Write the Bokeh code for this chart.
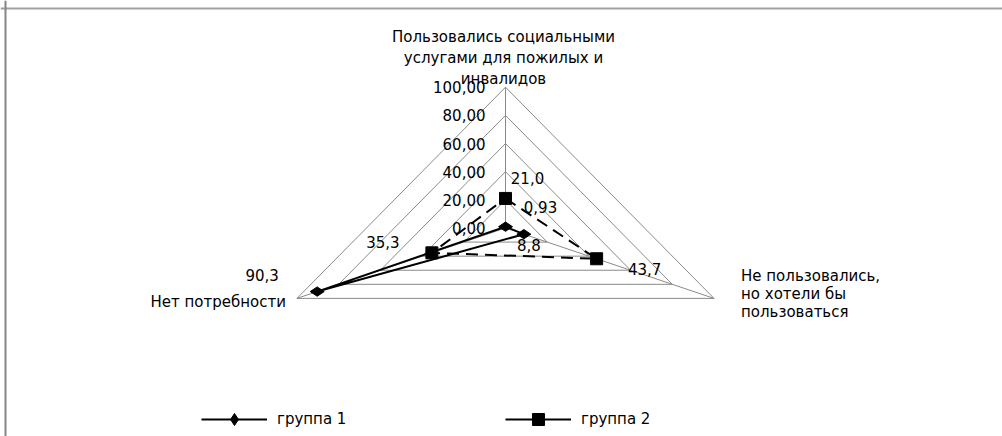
import numpy as np
from bokeh.plotting import figure
from bokeh.models import Range1d, Legend, LegendItem, Span
from bokeh.embed import file_html
from bokeh.resources import INLINE
from bokeh.core.properties import value

# ---------------- data ----------------
categories = ["Пользовались социальными\nуслугами для пожилых и\nинвалидов",
              "Не пользовались,\nно хотели бы\nпользоваться",
              "Нет потребности"]
series_names = ["группа 1", "группа 2"]
group1 = [0.93, 8.8, 90.3]
group2 = [21.0, 43.7, 35.3]
group1_labels = ["0,93", "8,8", "90,3"]
group2_labels = ["21,0", "43,7", "35,3"]
ticks = [0, 20, 40, 60, 80, 100]
tick_labels = ["0,00", "20,00", "40,00", "60,00", "80,00", "100,00"]

# ---------------- layout / style ----------------
W, H = 1002, 436
CX, CY = 505.0, 227.5      # chart centre in figure pixels
SX, SY = 2.408, 1.408      # pixels per unit (x, y)
angles = np.deg2rad([90, -30, 210])
FONT = value("DejaVu Sans")
FS = "15px"
GRID = "#8a8a8a"

g1_dx = [35, 5, -55]
g1_dy = [-20, 11, -17]
g2_dx = [22, 48, -49]
g2_dy = [-20, 10, -11]


def to_xy(vals):
    v = np.asarray(vals, dtype=float)
    return v * np.cos(angles), v * np.sin(angles)


def closed(a):
    return np.append(a, a[0])


p = figure(width=W, height=H,
           x_range=Range1d(-CX / SX, (W - CX) / SX),
           y_range=Range1d(-(H - CY) / SY, CY / SY),
           output_backend="svg", toolbar_location=None, min_border=0,
           x_axis_location=None, y_axis_location=None,
           outline_line_color=None)
p.grid.visible = False

# chart-area border (top and left visible in the reference)
p.add_layout(Span(location=(CY - 8) / SY, dimension="width", line_color="#a0a0a0", line_width=2))
p.add_layout(Span(location=(5 - CX) / SX, dimension="height", line_color="#858585", line_width=2))

# radar grid
levels = ticks[1:]
gxs, gys = [], []
for r in levels:
    x, y = to_xy([r] * 3)
    gxs.append(list(closed(x)))
    gys.append(list(closed(y)))
p.multi_line(gxs, gys, line_color=GRID, line_width=1)

ox, oy = to_xy([ticks[-1]] * 3)
p.multi_line([[0, float(x)] for x in ox], [[0, float(y)] for y in oy], line_color=GRID, line_width=1)

# tick labels along the top axis
tx = [0.0] * len(ticks)
p.text(x=tx, y=ticks, text=tick_labels, x_offset=-20, y_offset=0,
       text_align="right", text_baseline="middle", text_font=FONT,
       text_font_size=FS, text_color="black")

# category labels
p.text(x=[ox[0]], y=[oy[0]], text=[categories[0]], x_offset=-2, y_offset=-29,
       text_align="center", text_baseline="middle", text_font=FONT,
       text_font_size=FS, text_color="black", text_line_height=1.18)
p.text(x=[ox[1]], y=[oy[1]], text=[categories[1]], x_offset=27, y_offset=-4,
       text_align="left", text_baseline="middle", text_font=FONT,
       text_font_size=FS, text_color="black", text_line_height=1.0)
p.text(x=[ox[2]], y=[oy[2]], text=[categories[2]], x_offset=-11, y_offset=4,
       text_align="right", text_baseline="middle", text_font=FONT,
       text_font_size=FS, text_color="black")

# series
g1x, g1y = to_xy(group1)
g2x, g2y = to_xy(group2)

r2 = p.line(closed(g2x), closed(g2y), line_color="black", line_width=2, line_dash="12 7")
r1 = p.line(closed(g1x), closed(g1y), line_color="black", line_width=2)
s2 = p.scatter(g2x, g2y, marker="square", size=12, color="black")
s1 = p.scatter(g1x, g1y, marker="diamond", angle=np.pi / 2, size=14, color="black")
# zero-length solid line, used only for the legend swatch of group 2
r2_leg = p.line(x=[g2x[0], g2x[0]], y=[g2y[0], g2y[0]], line_color="black", line_width=2)

# data labels
p.text(x=g1x, y=g1y, text=group1_labels, x_offset=g1_dx, y_offset=g1_dy,
       text_align="center", text_baseline="middle", text_font=FONT,
       text_font_size=FS, text_color="black")
p.text(x=g2x, y=g2y, text=group2_labels, x_offset=g2_dx, y_offset=g2_dy,
       text_align="center", text_baseline="middle", text_font=FONT,
       text_font_size=FS, text_color="black")

# legends
common = dict(orientation="horizontal", glyph_width=66, glyph_height=30,
              label_standoff=10, padding=0, margin=0, border_line_color=None,
              background_fill_alpha=0, label_text_font="DejaVu Sans",
              label_text_font_size=FS, label_text_color="black")
leg1 = Legend(items=[LegendItem(label=series_names[0], renderers=[r1, s1])],
              location=(201, 2), **common)
leg2 = Legend(items=[LegendItem(label=series_names[1], renderers=[r2_leg, s2])],
              location=(505, 2), **common)
p.add_layout(leg1)
p.add_layout(leg2)

open("out.html", "w").write(file_html(p, INLINE))
